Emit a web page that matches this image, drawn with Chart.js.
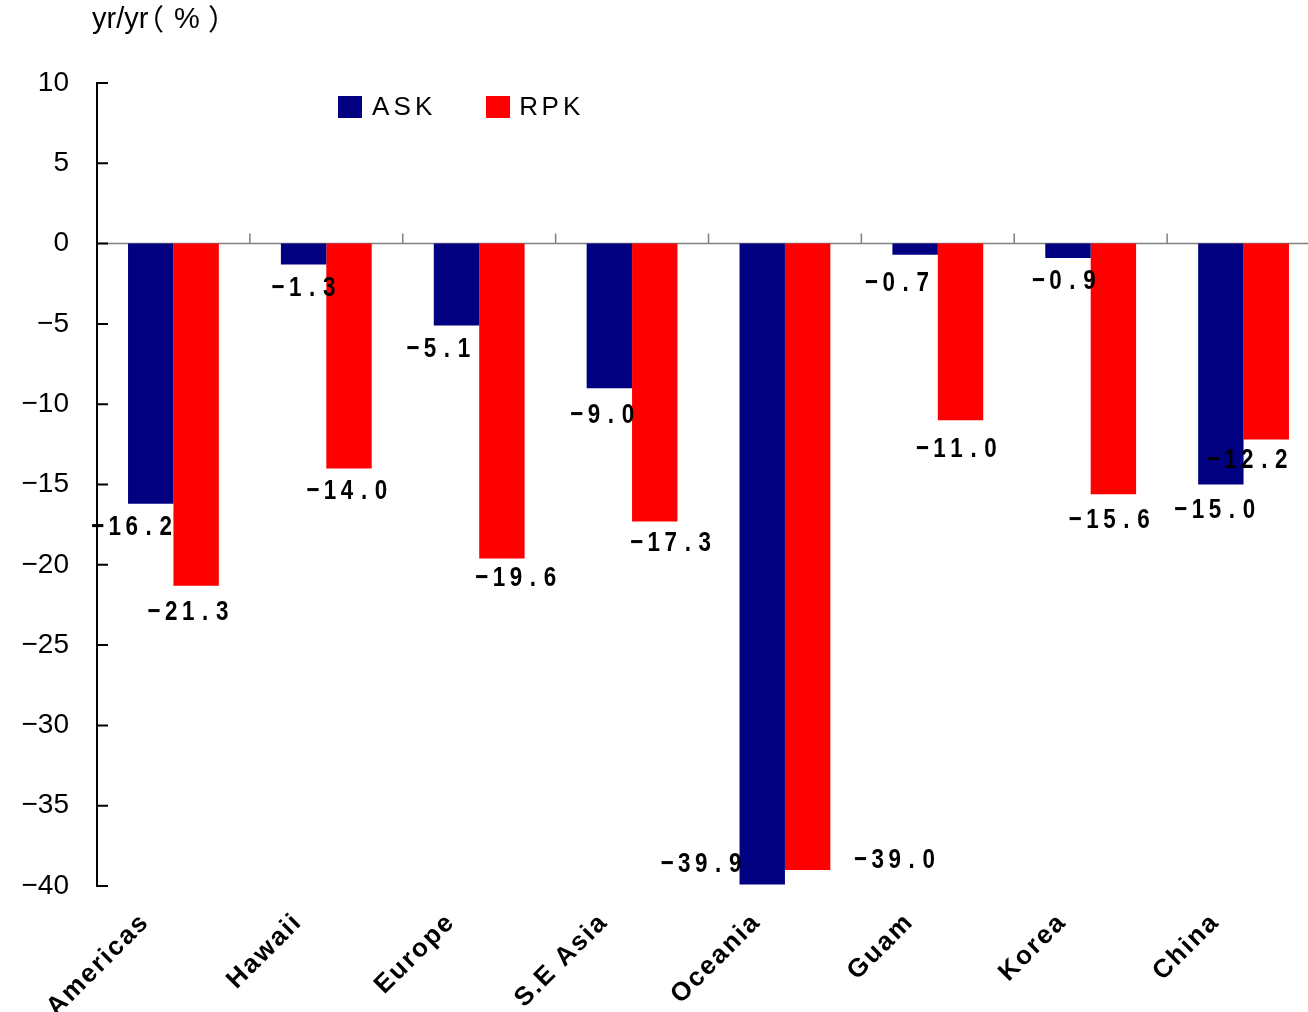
<!DOCTYPE html>
<html>
<head>
<meta charset="utf-8">
<script src="https://cdn.jsdelivr.net/npm/chart.js@4.4.1/dist/chart.umd.min.js"></script>
<style>
  html, body { margin: 0; background: #fff; overflow: hidden; }
  /* the plot area runs a little past the right edge in the original */
  #wrap { width: 1320px; height: 1012px; }
</style>
</head>
<body>
<div id="wrap"><canvas id="chart" width="1320" height="1012"></canvas></div>
<script>
// data
const categories = ["Americas", "Hawaii", "Europe", "S.E Asia", "Oceania", "Guam", "Korea", "China"];
const askValues = [-16.2, -1.3, -5.1, -9.0, -39.9, -0.7, -0.9, -15.0];
const rpkValues = [-21.3, -14.0, -19.6, -17.3, -39.0, -11.0, -15.6, -12.2];
const yTickValues = [10, 5, 0, -5, -10, -15, -20, -25, -30, -35, -40];
const seriesNames = ["ASK", "RPK"];

// where each value label sits, relative to the end of its bar (dx, dy)
const askNudge = [[-19, 24], [0, 24], [-18, 24], [-7, 27], [-61, -20], [-18, 28], [-4, 23], [-6, 26]];
const rpkNudge = [[-8, 27], [-2, 23], [14, 20], [16, 22], [87, -10], [-4, 29], [-4, 26], [-19, 21]];

const colors = ["#000080", "#ff0000"];

function fmt(v) {
    return v.toFixed(1).replace("-", "\u2212");
}

// draw text char by char in fixed cells (the original uses spaced half-width glyphs)
function spacedText(ctx, text, x, y, cell, align, squash) {
    const total = text.length * cell;
    let start = x;
    if (align === "center") start = x - total / 2;
    if (align === "right") start = x - total;
    for (let i = 0; i < text.length; i++) {
        const cx = start + (i + 0.5) * cell;
        ctx.save();
        ctx.translate(cx, y);
        ctx.scale(squash, 1);
        ctx.textAlign = "center";
        ctx.fillText(text[i], 0, 0);
        ctx.restore();
    }
}

const decor = {
    id: "decor",
    beforeDatasetsDraw(chart) {
        const ctx = chart.ctx;
        const area = chart.chartArea;
        const y = chart.scales.y;
        const x = chart.scales.x;
        const y0 = y.getPixelForValue(0);

        ctx.save();
        // zero line with category separators
        ctx.strokeStyle = "#808080";
        ctx.lineWidth = 1.5;
        ctx.beginPath();
        ctx.moveTo(area.left, y0);
        ctx.lineTo(area.right, y0);
        for (let i = 1; i < categories.length; i++) {
            const bx = (x.getPixelForValue(i - 1) + x.getPixelForValue(i)) / 2;
            ctx.moveTo(bx, y0 - 10);
            ctx.lineTo(bx, y0);
        }
        ctx.stroke();

        // inward tick marks on the value axis
        ctx.strokeStyle = "#000";
        ctx.lineWidth = 2;
        ctx.beginPath();
        yTickValues.forEach(function (v) {
            const py = y.getPixelForValue(v);
            ctx.moveTo(area.left, py);
            ctx.lineTo(area.left + 11, py);
        });
        ctx.stroke();
        ctx.restore();
    },
    afterDatasetsDraw(chart) {
        const ctx = chart.ctx;
        const x = chart.scales.x;
        const nudges = [askNudge, rpkNudge];

        ctx.save();
        ctx.fillStyle = "#000";
        ctx.textBaseline = "middle";

        // value labels
        ctx.font = "bold 28px 'Liberation Sans', Arial, sans-serif";
        chart.data.datasets.forEach(function (ds, di) {
            const meta = chart.getDatasetMeta(di);
            meta.data.forEach(function (bar, i) {
                const n = nudges[di][i];
                spacedText(ctx, fmt(ds.data[i]), bar.x + n[0], bar.y + n[1], 17, "center", 0.8);
            });
        });

        // category labels, rotated
        ctx.font = "bold 26px 'Liberation Sans', Arial, sans-serif";
        ctx.textBaseline = "alphabetic";
        ctx.textAlign = "right";
        ctx.letterSpacing = "2px";
        categories.forEach(function (c, i) {
            ctx.save();
            ctx.translate(x.getPixelForValue(i) - 23, 923);
            ctx.rotate(-Math.PI / 4);
            ctx.fillText(c, 0, 0);
            ctx.restore();
        });
        ctx.letterSpacing = "0px";

        // legend
        ctx.textBaseline = "middle";
        ctx.font = "26px 'Liberation Sans', Arial, sans-serif";
        const legendX = [338, 486];
        seriesNames.forEach(function (name, i) {
            ctx.fillStyle = colors[i];
            ctx.fillRect(legendX[i], 96, 24, 22);
            ctx.fillStyle = "#000";
            spacedText(ctx, name, legendX[i] + 32, 108, 21.5, "left", 1);
        });

        // unit label: yr/yr（%）
        ctx.textBaseline = "alphabetic";
        ctx.font = "29px 'Liberation Sans', 'Noto Sans CJK JP', sans-serif";
        ctx.textAlign = "left";
        ctx.fillText("yr/yr", 92, 28);
        ctx.font = "29px 'Noto Sans CJK JP', sans-serif";
        ctx.textAlign = "right";
        ctx.fillText("（", 164, 30);
        ctx.textAlign = "left";
        ctx.fillText("）", 208, 30);
        ctx.font = "29px 'Liberation Sans', sans-serif";
        ctx.fillText("%", 174, 28);
        ctx.restore();
    }
};

new Chart(document.getElementById("chart"), {
    type: "bar",
    data: {
        labels: categories,
        datasets: [
            { label: seriesNames[0], data: askValues, backgroundColor: colors[0] },
            { label: seriesNames[1], data: rpkValues, backgroundColor: colors[1] }
        ]
    },
    options: {
        responsive: false,
        animation: false,
        events: [],
        layout: { padding: { top: 83, bottom: 126, left: 0, right: 0 } },
        datasets: { bar: { categoryPercentage: 0.594, barPercentage: 1.0 } },
        plugins: { legend: { display: false }, tooltip: { enabled: false } },
        scales: {
            x: { display: false },
            y: {
                min: -40,
                max: 10,
                afterBuildTicks: function (scale) {
                    scale.ticks = yTickValues.map(function (v) { return { value: v }; });
                },
                afterFit: function (scale) { scale.width = 97; },
                grid: { display: false, drawTicks: false },
                border: { display: true, color: "#000", width: 2 },
                ticks: {
                    padding: 28,
                    color: "#000",
                    font: { family: "'Liberation Sans', Arial, sans-serif", size: 28 },
                    callback: function (v) { return String(v).replace("-", "\u2212"); }
                }
            }
        }
    },
    plugins: [decor]
});
</script>
</body>
</html>
